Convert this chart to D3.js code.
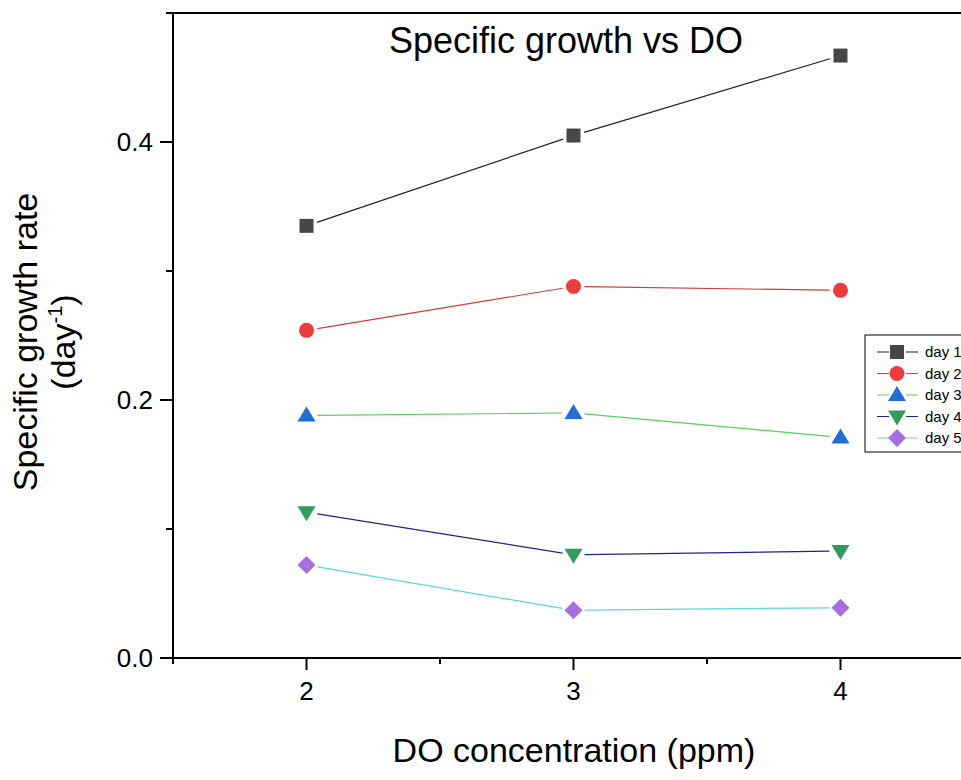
<!DOCTYPE html>
<html>
<head>
<meta charset="utf-8">
<script src="https://cdn.jsdelivr.net/npm/d3@7/dist/d3.min.js"></script>
<style>
  body { margin: 0; background: #fff; }
  svg { display: block; font-family: "Liberation Sans", Arial, sans-serif; }
</style>
</head>
<body>
<svg id="chart" width="961" height="780"></svg>
<script>
// data
var doLevels = [2, 3, 4];
var seriesNames = ['day 1', 'day 2', 'day 3', 'day 4', 'day 5'];
var day1 = [0.335, 0.405, 0.467];
var day2 = [0.254, 0.288, 0.285];
var day3 = [0.188, 0.190, 0.171];
var day4 = [0.113, 0.080, 0.083];
var day5 = [0.072, 0.037, 0.039];
var yTicks = [0.0, 0.2, 0.4];
var yMinor = [0.1, 0.3];
var xTicks = [2, 3, 4];
var xMinor = [1.5, 2.5, 3.5, 4.5];

var lineColors = ['#222222', '#d23c3c', '#5ccf5c', '#22228a', '#5cd6d6'];
var markColors = ['#474747', '#ee3b3b', '#1f6fd6', '#2e9e5a', '#a66ee0'];
var markShapes = ['square', 'circle', 'up', 'down', 'diamond'];

var allSeries = [day1, day2, day3, day4, day5];

var svg = d3.select('#chart');

// x axis runs from 1.5 to 4.5, the right end falls just outside the window
var xScale = d3.scaleLinear().domain([1.5, 4.5]).range([173, 974]);
var yScale = d3.scaleLinear().domain([0, 0.5]).range([658, 13]);

function markerPath(shape) {
  if (shape == 'square') return 'M-7,-7H7V7H-7Z';
  if (shape == 'circle') return 'M7.5,0A7.5,7.5 0 1,1 -7.5,0A7.5,7.5 0 1,1 7.5,0Z';
  if (shape == 'up') return 'M0,-9L9,6H-9Z';
  if (shape == 'down') return 'M0,9L9,-6H-9Z';
  return 'M0,-9L9,0L0,9L-9,0Z';
}

// axes frame
var ax = svg.append('g').attr('stroke', '#000').attr('stroke-width', 2);
ax.append('line').attr('x1', 173).attr('x2', 173).attr('y1', yScale(0.5)).attr('y2', yScale(0) + 5);
ax.append('line').attr('x1', 160).attr('x2', 961).attr('y1', yScale(0)).attr('y2', yScale(0));
ax.append('line').attr('x1', 166).attr('x2', 961).attr('y1', yScale(0.5)).attr('y2', yScale(0.5));

ax.selectAll('.ymaj').data(yTicks).enter().append('line')
  .attr('x1', 160).attr('x2', 173)
  .attr('y1', d => yScale(d)).attr('y2', d => yScale(d));
ax.selectAll('.ymin').data(yMinor).enter().append('line')
  .attr('x1', 166).attr('x2', 173)
  .attr('y1', d => yScale(d)).attr('y2', d => yScale(d));
ax.selectAll('.xmaj').data(xTicks).enter().append('line')
  .attr('x1', d => xScale(d)).attr('x2', d => xScale(d))
  .attr('y1', yScale(0)).attr('y2', yScale(0) + 12);
ax.selectAll('.xmin').data(xMinor).enter().append('line')
  .attr('x1', d => xScale(d)).attr('x2', d => xScale(d))
  .attr('y1', yScale(0)).attr('y2', yScale(0) + 6);

svg.selectAll('.ylab').data(yTicks).enter().append('text')
  .attr('x', 153).attr('y', d => yScale(d) + 9)
  .attr('text-anchor', 'end').attr('font-size', 26)
  .text(d => d.toFixed(1));
svg.selectAll('.xlab').data(xTicks).enter().append('text')
  .attr('x', d => xScale(d)).attr('y', 700)
  .attr('text-anchor', 'middle').attr('font-size', 26)
  .text(d => d);

// titles
svg.append('text').attr('x', 566).attr('y', 53)
  .attr('text-anchor', 'middle').attr('font-size', 36)
  .text('Specific growth vs DO');
svg.append('text').attr('x', 574).attr('y', 762)
  .attr('text-anchor', 'middle').attr('font-size', 34)
  .text('DO concentration (ppm)');

var yt = svg.append('g').attr('transform', 'translate(37,342) rotate(-90)');
yt.append('text').attr('text-anchor', 'middle').attr('font-size', 34)
  .text('Specific growth rate');
var yt2 = yt.append('text').attr('y', 38).attr('text-anchor', 'middle').attr('font-size', 34);
yt2.append('tspan').text('(day');
yt2.append('tspan').attr('font-size', 20).attr('dy', -13).text('-1');
yt2.append('tspan').attr('dy', 13).text(')');

// series: lines with a gap around each marker, then markers
var gap = 11;
allSeries.forEach(function (vals, s) {
  var pts = vals.map((v, i) => [xScale(doLevels[i]), yScale(v)]);
  var segs = d3.pairs(pts);
  svg.append('g').selectAll('line').data(segs).enter().append('line')
    .attr('x1', d => d[0][0] + gap * (d[1][0] - d[0][0]) / Math.hypot(d[1][0] - d[0][0], d[1][1] - d[0][1]))
    .attr('y1', d => d[0][1] + gap * (d[1][1] - d[0][1]) / Math.hypot(d[1][0] - d[0][0], d[1][1] - d[0][1]))
    .attr('x2', d => d[1][0] - gap * (d[1][0] - d[0][0]) / Math.hypot(d[1][0] - d[0][0], d[1][1] - d[0][1]))
    .attr('y2', d => d[1][1] - gap * (d[1][1] - d[0][1]) / Math.hypot(d[1][0] - d[0][0], d[1][1] - d[0][1]))
    .attr('stroke', lineColors[s]).attr('stroke-width', 1.2);
  svg.append('g').selectAll('path').data(pts).enter().append('path')
    .attr('transform', d => 'translate(' + d[0] + ',' + d[1] + ')')
    .attr('d', markerPath(markShapes[s]))
    .attr('fill', markColors[s]);
});

// legend (cut by the right edge like the reference)
var lg = svg.append('g').attr('transform', 'translate(865,335)');
lg.append('rect').attr('x', 0).attr('y', 0).attr('width', 140).attr('height', 117)
  .attr('fill', '#fff').attr('stroke', '#000').attr('stroke-width', 1);
var rows = lg.selectAll('.row').data(seriesNames).enter().append('g')
  .attr('transform', (d, i) => 'translate(0,' + (17 + i * 21.5) + ')');
rows.append('line').attr('x1', 12).attr('x2', 53).attr('y1', 0).attr('y2', 0)
  .attr('stroke', (d, i) => lineColors[i]).attr('stroke-width', 1.2);
rows.append('rect').attr('x', 24).attr('y', -8).attr('width', 17).attr('height', 16).attr('fill', '#fff');
rows.append('path').attr('transform', 'translate(32,0)')
  .attr('d', (d, i) => markerPath(markShapes[i]))
  .attr('fill', (d, i) => markColors[i]);
rows.append('text').attr('x', 60).attr('y', 5).attr('font-size', 15)
  .text(d => d);
</script>
</body>
</html>
